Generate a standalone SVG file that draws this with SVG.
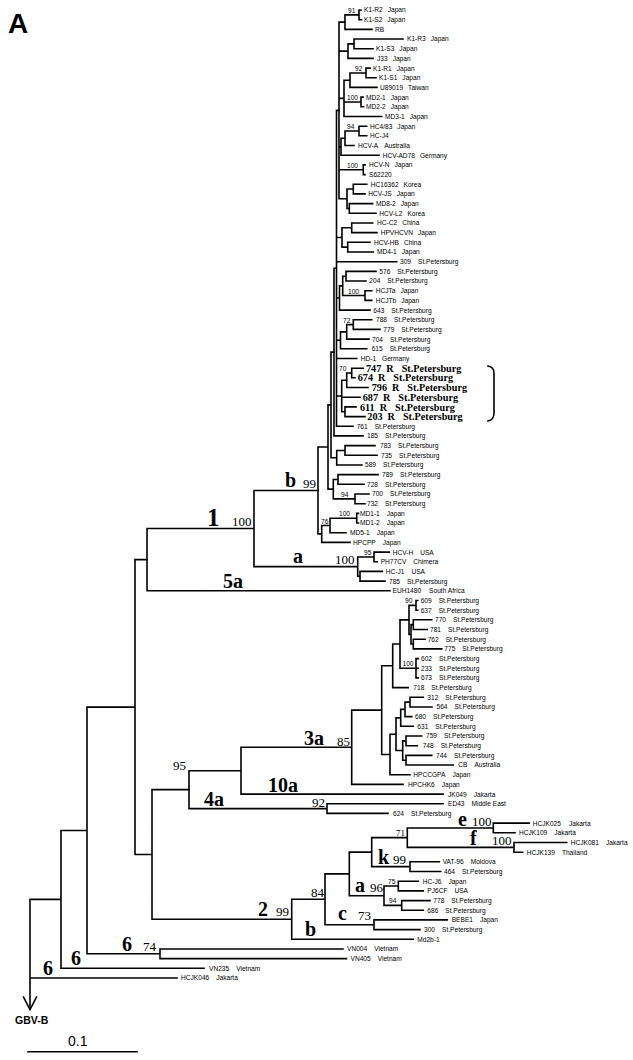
<svg xmlns="http://www.w3.org/2000/svg" width="633" height="1060" viewBox="0 0 633 1060">
<style>
.br{fill:none;stroke:#000;stroke-width:1.6;stroke-linecap:square}
.lf{font-family:"Liberation Sans",Arial,sans-serif;font-size:6.6px;fill:#000}
.rb{font-family:"Liberation Serif","Times New Roman",serif;font-size:10.2px;font-weight:bold;fill:#000}
.cl{font-family:"Liberation Serif","Times New Roman",serif;font-size:20px;font-weight:bold;fill:#000}
.bs{font-family:"Liberation Serif","Times New Roman",serif;font-size:13px;fill:#000}
.sb{font-family:"Liberation Sans",Arial,sans-serif;font-size:6.6px;fill:#000}
</style>
<rect width="633" height="1060" fill="#fff"/>
<text x="8" y="33" style="font-family:'Liberation Sans',Arial,sans-serif;font-size:28px;font-weight:bold">A</text>
<g id="connectors">
<path class="br" d="M359 10V19.7M359 10H361M359 19.7H361.5M345 14.85V29.4M345 14.85H359M345 29.4H372M354 39V48.7M354 39H403M354 48.7H373M348 43.85V58.4M348 43.85H354M348 58.4H373M366 68.1V77.8M366 68.1H370M366 77.8H376M350 72.95V87.4M350 72.95H366M350 87.4H377M361 97.1V106.8M361 97.1H363M361 106.8H363.5M344 80.2V116.5M344 80.2H350M344 101.95H361M344 116.5H381.7M359 126.2V135.8M359 126.2H366.7M359 135.8H366.7M345 131V145.5M345 131H359M345 145.5H354M341 138.25V155.2M341 138.25H345M341 155.2H379M363.3 164.9V174.6M363.3 164.9H365M363.3 174.6H365M353.3 184.2V193.9M353.3 184.2H366.7M353.3 193.9H365M349.3 203.6V213.3M349.3 203.6H372.7M349.3 213.3H376M347 189.05V208.45M347 189.05H353.3M347 208.45H349.3M339 22.1V198.75M339 22.1H345M339 51.1H348M339 98.35H344M339 146.7H341M339 169.75H363.3M339 198.75H347"/>
<path class="br" d="M351.7 223V232.6M351.7 223H372.7M351.7 232.6H377M347.7 242.3V252M347.7 242.3H370M347.7 252H373.3M342 227.8V247.15M342 227.8H351.7M342 247.15H347.7M346 271.4V281M346 271.4H376M346 281H366M365 290.7V300.4M365 290.7H371.7M365 300.4H371.7M342.7 276.2V295.55M342.7 276.2H346M342.7 295.55H365M339.5 285.9V310.1M339.5 285.9H342.7M339.5 310.1H370M353.3 319.8V329.4M353.3 319.8H371.7M353.3 329.4H380M346.7 324.6V339.1M346.7 324.6H353.3M346.7 339.1H369M340.5 331.85V348.8M340.5 331.85H346.7M340.5 348.8H366.7M351.7 368.2V377.8M351.7 368.2H363.3M351.7 377.8H355M346.7 373V387.5M346.7 373H351.7M346.7 387.5H368M345 406.9V416.6M345 406.9H356M345 416.6H365M341.7 380.25V411.75M341.7 380.25H346.7M341.7 397.2H360M341.7 411.75H345M336.5 110.4V426.2M336.5 110.4H339M336.5 237.5H342M336.5 261.7H396.7M336.5 298H339.5M336.5 340.3H340.5M336.5 358.5H356.7M336.5 396H341.7M336.5 426.2H353M334 268.3V435.9M334 268.3H336.5M334 435.9H363"/>
<path class="br" d="M345 445.6V455.3M345 445.6H375M345 455.3H377M336.7 450.45V465M336.7 450.45H345M336.7 465H362M331 352.1V457.7M331 352.1H334M331 457.7H336.7M338 474.6V484.3M338 474.6H378M338 484.3H364M355 494V503.7M355 494H369M355 503.7H365M333.3 479.45V498.85M333.3 479.45H338M333.3 498.85H355M328 404.9V489.15M328 404.9H331M328 489.15H333.3M356.7 513.4V523M356.7 513.4H358.5M356.7 523H358.5M330 518.2V532.7M330 518.2H356.7M330 532.7H346M321.7 525.45V542.4M321.7 525.45H330M321.7 542.4H350M318 447V533.9M318 447H328M318 533.9H321.7"/>
<path class="br" d="M374 552.1V561.8M374 552.1H389.3M374 561.8H377.3M360 571.4V581.1M360 571.4H382.3M360 581.1H385M357.7 556.95V576.25M357.7 556.95H374M357.7 576.25H360M254 490.45V566.6M254 490.45H318M254 566.6H357.7M147 528.5V590.8M147 528.5H254M147 590.8H390"/>
<path class="br" d="M416 600.5V610.2M416 600.5H417.7M416 610.2H417.7M413.3 619.8V629.5M413.3 619.8H431.7M413.3 629.5H427.3M413.3 639.2V648.9M413.3 639.2H425M413.3 648.9H441.7M411 624.65V644.05M411 624.65H413.3M411 644.05H413.3M409 605.35V634.35M409 605.35H416M409 634.35H411M416 658.6V677.9M416 658.6H418.3M416 668.25H418.3M416 677.9H418.3M400 619.85V668.25M400 619.85H409M400 668.25H416M392.7 644.05V687.6M392.7 644.05H400M392.7 687.6H408.3M410 697.3V707M410 697.3H423.3M410 707H432M405 702.15V716.6M405 702.15H410M405 716.6H411.7M400.7 709.4V726.3M400.7 709.4H405M400.7 726.3H413.3M406 736V745.7M406 736H421.7M406 745.7H417.3M406 755.4V765M406 755.4H431.7M406 765H453.3M402.7 740.85V760.2M402.7 740.85H406M402.7 760.2H406M396 717.85V750.5M396 717.85H400.7M396 750.5H402.7M390 734.2V774.7M390 734.2H396M390 774.7H410M381.7 665.8V754.45M381.7 665.8H392.7M381.7 754.45H390M351.7 710.1V784.4M351.7 710.1H381.7M351.7 784.4H403M241 747.25V794.1M241 747.25H351.7M241 794.1H443M327 803.8V813.4M327 803.8H443M327 813.4H388M189 770.7V808.6M189 770.7H241M189 808.6H327"/>
<path class="br" d="M493.3 823.1V832.8M493.3 823.1H529.3M493.3 832.8H515M514 842.5V852.2M514 842.5H566.7M514 852.2H522.7M407.3 827.95V847.35M407.3 827.95H493.3M407.3 847.35H514M410 861.8V871.5M410 861.8H439.3M410 871.5H440.7M371.7 837.65V866.65M371.7 837.65H407.3M371.7 866.65H410M398.3 881.2V890.9M398.3 881.2H418.3M398.3 890.9H423.3M401.7 900.6V910.2M401.7 900.6H430M401.7 910.2H423.3M384 886.05V905.4M384 886.05H398.3M384 905.4H401.7M349.3 852.15V895.7M349.3 852.15H371.7M349.3 895.7H384M374 919.9V929.6M374 919.9H447.3M374 929.6H420M325 873.9V924.75M325 873.9H349.3M325 924.75H374M291.7 899.3V939.3M291.7 899.3H325M291.7 939.3H413.3M152 789.65V919.3M152 789.65H189M152 919.3H291.7M135 559.65V854.5M135 559.65H147M135 854.5H152M160 949V958.6M160 949H343M160 958.6H346.5M87 707.1V953.8M87 707.1H135M87 953.8H160M61 830.45V968.3M61 830.45H87M61 968.3H204M30 899.4V1009M30 899.4H61M30 978H177"/>
<path class="br" stroke-linecap="butt" d="M23.5 997L30 1009.5L36.5 997"/>
<path class="br" d="M488 366Q494 367 494 373V413Q494 420 488 421"/>
<path class="br" stroke-linecap="butt" d="M28 1051.7H137"/>
</g>
<g id="labels">
<text class="cl" x="207" y="526" style="font-size:25px">1</text>
<text class="bs" x="232" y="526">100</text>
<text class="cl" x="285" y="487">b</text>
<text class="bs" x="303" y="488">99</text>
<text class="cl" x="293" y="563">a</text>
<text class="bs" x="335" y="564">100</text>
<text class="cl" x="223" y="588">5a</text>
<text class="cl" x="304" y="745">3a</text>
<text class="bs" x="337" y="746">85</text>
<text class="cl" x="268" y="792">10a</text>
<text class="bs" x="173" y="770">95</text>
<text class="cl" x="204" y="806">4a</text>
<text class="bs" x="312" y="807">92</text>
<text class="cl" x="458" y="826">e</text>
<text class="bs" x="472" y="826">100</text>
<text class="cl" x="470" y="845">f</text>
<text class="bs" x="492" y="845">100</text>
<text class="bs" x="396" y="836" style="font-size:9px">71</text>
<text class="cl" x="378" y="864">k</text>
<text class="bs" x="393" y="864">99</text>
<text class="cl" x="355" y="892">a</text>
<text class="bs" x="370" y="892">96</text>
<text class="bs" x="311" y="897">84</text>
<text class="cl" x="338" y="920">c</text>
<text class="bs" x="358" y="920">73</text>
<text class="cl" x="258" y="916">2</text>
<text class="bs" x="276" y="916">99</text>
<text class="cl" x="305" y="936">b</text>
<text class="cl" x="122" y="951">6</text>
<text class="bs" x="143" y="951">74</text>
<text class="cl" x="71" y="965">6</text>
<text class="cl" x="43" y="975">6</text>
<text class="sb" x="348" y="13">91</text>
<text class="sb" x="355" y="71">92</text>
<text class="sb" x="347" y="100">100</text>
<text class="sb" x="347" y="129">94</text>
<text class="sb" x="347" y="167.5">100</text>
<text class="sb" x="348" y="293.5">100</text>
<text class="sb" x="343" y="322.5">72</text>
<text class="sb" x="339" y="370.5">70</text>
<text class="sb" x="341" y="497">94</text>
<text class="sb" x="339" y="516">100</text>
<text class="sb" x="321" y="523.5">76</text>
<text class="sb" x="364" y="555">95</text>
<text class="sb" x="405" y="603">90</text>
<text class="sb" x="402.5" y="666">100</text>
<text class="sb" x="388" y="884">75</text>
<text class="sb" x="389" y="903">94</text>
<text x="15" y="1024" style="font-family:'Liberation Sans',Arial,sans-serif;font-size:10.5px;font-weight:bold">GBV-B</text>
<text x="68" y="1046" style="font-family:'Liberation Sans',Arial,sans-serif;font-size:14px">0.1</text>
</g>
<g id="n-K1-R2"><text class="lf" x="364" y="12.4">K1-R2<tspan dx="5">Japan</tspan></text></g>
<g id="n-K1-S2"><text class="lf" x="364" y="22.1">K1-S2<tspan dx="5">Japan</tspan></text></g>
<g id="n-RB"><text class="lf" x="375" y="31.8">RB</text></g>
<g id="n-K1-R3"><text class="lf" x="407" y="41.4">K1-R3<tspan dx="5">Japan</tspan></text></g>
<g id="n-K1-S3"><text class="lf" x="376" y="51.1">K1-S3<tspan dx="5">Japan</tspan></text></g>
<g id="n-J33"><text class="lf" x="377" y="60.8">J33<tspan dx="5">Japan</tspan></text></g>
<g id="n-K1-R1"><text class="lf" x="373" y="70.5">K1-R1<tspan dx="5">Japan</tspan></text></g>
<g id="n-K1-S1"><text class="lf" x="379" y="80.2">K1-S1<tspan dx="5">Japan</tspan></text></g>
<g id="n-U89019"><text class="lf" x="380" y="89.8">U89019<tspan dx="5">Taiwan</tspan></text></g>
<g id="n-MD2-1"><text class="lf" x="366" y="99.5">MD2-1<tspan dx="5">Japan</tspan></text></g>
<g id="n-MD2-2"><text class="lf" x="366" y="109.2">MD2-2<tspan dx="5">Japan</tspan></text></g>
<g id="n-MD3-1"><text class="lf" x="385" y="118.9">MD3-1<tspan dx="5">Japan</tspan></text></g>
<g id="n-HC4-83"><text class="lf" x="370" y="128.6">HC4/83<tspan dx="5">Japan</tspan></text></g>
<g id="n-HC-J4"><text class="lf" x="370" y="138.2">HC-J4</text></g>
<g id="n-HCV-A"><text class="lf" x="358" y="147.9">HCV-A<tspan dx="6">Australia</tspan></text></g>
<g id="n-HCV-AD78"><text class="lf" x="382.7" y="157.6">HCV-AD78<tspan dx="5">Germany</tspan></text></g>
<g id="n-HCV-N"><text class="lf" x="369" y="167.3">HCV-N<tspan dx="5">Japan</tspan></text></g>
<g id="n-S62220"><text class="lf" x="369" y="177">S62220</text></g>
<g id="n-HC16362"><text class="lf" x="370.7" y="186.6">HC16362<tspan dx="5">Korea</tspan></text></g>
<g id="n-HCV-JS"><text class="lf" x="368.3" y="196.3">HCV-JS<tspan dx="5">Japan</tspan></text></g>
<g id="n-MD8-2"><text class="lf" x="376" y="206">MD8-2<tspan dx="5">Japan</tspan></text></g>
<g id="n-HCV-L2"><text class="lf" x="379.3" y="215.7">HCV-L2<tspan dx="5">Korea</tspan></text></g>
<g id="n-HC-C2"><text class="lf" x="377" y="225.4">HC-C2<tspan dx="5">China</tspan></text></g>
<g id="n-HPVHCVN"><text class="lf" x="380.7" y="235">HPVHCVN<tspan dx="5">Japan</tspan></text></g>
<g id="n-HCV-HB"><text class="lf" x="374" y="244.7">HCV-HB<tspan dx="5">China</tspan></text></g>
<g id="n-MD4-1"><text class="lf" x="377" y="254.4">MD4-1<tspan dx="5">Japan</tspan></text></g>
<g id="n-309"><text class="lf" x="400" y="264.1">309<tspan dx="7">St.Petersburg</tspan></text></g>
<g id="n-576"><text class="lf" x="379.3" y="273.8">576<tspan dx="7">St.Petersburg</tspan></text></g>
<g id="n-204"><text class="lf" x="369.3" y="283.4">204<tspan dx="7">St.Petersburg</tspan></text></g>
<g id="n-HCJTa"><text class="lf" x="375.7" y="293.1">HCJTa<tspan dx="5">Japan</tspan></text></g>
<g id="n-HCJTb"><text class="lf" x="375.7" y="302.8">HCJTb<tspan dx="5">Japan</tspan></text></g>
<g id="n-643"><text class="lf" x="373.3" y="312.5">643<tspan dx="7">St.Petersburg</tspan></text></g>
<g id="n-788"><text class="lf" x="376" y="322.2">788<tspan dx="7">St.Petersburg</tspan></text></g>
<g id="n-779"><text class="lf" x="383.3" y="331.8">779<tspan dx="7">St.Petersburg</tspan></text></g>
<g id="n-704"><text class="lf" x="372" y="341.5">704<tspan dx="7">St.Petersburg</tspan></text></g>
<g id="n-615"><text class="lf" x="371.7" y="351.2">615<tspan dx="7">St.Petersburg</tspan></text></g>
<g id="n-HD-1"><text class="lf" x="360.7" y="360.9">HD-1<tspan dx="6">Germany</tspan></text></g>
<g id="n-747R"><text class="rb" x="366" y="371.8">747<tspan dx="5">R</tspan><tspan dx="8">St.Petersburg</tspan></text></g>
<g id="n-674R"><text class="rb" x="357.7" y="381.4">674<tspan dx="5">R</tspan><tspan dx="8">St.Petersburg</tspan></text></g>
<g id="n-796R"><text class="rb" x="371.7" y="391.1">796<tspan dx="5">R</tspan><tspan dx="8">St.Petersburg</tspan></text></g>
<g id="n-687R"><text class="rb" x="362.7" y="400.8">687<tspan dx="5">R</tspan><tspan dx="8">St.Petersburg</tspan></text></g>
<g id="n-611R"><text class="rb" x="360" y="410.5">611<tspan dx="5">R</tspan><tspan dx="8">St.Petersburg</tspan></text></g>
<g id="n-203R"><text class="rb" x="367.3" y="420.2">203<tspan dx="5">R</tspan><tspan dx="8">St.Petersburg</tspan></text></g>
<g id="n-761"><text class="lf" x="356.7" y="428.6">761<tspan dx="7">St.Petersburg</tspan></text></g>
<g id="n-185"><text class="lf" x="367" y="438.3">185<tspan dx="7">St.Petersburg</tspan></text></g>
<g id="n-783"><text class="lf" x="380" y="448">783<tspan dx="7">St.Petersburg</tspan></text></g>
<g id="n-735"><text class="lf" x="381" y="457.7">735<tspan dx="7">St.Petersburg</tspan></text></g>
<g id="n-589"><text class="lf" x="365" y="467.4">589<tspan dx="7">St.Petersburg</tspan></text></g>
<g id="n-789"><text class="lf" x="382" y="477">789<tspan dx="7">St.Petersburg</tspan></text></g>
<g id="n-728"><text class="lf" x="367" y="486.7">728<tspan dx="7">St.Petersburg</tspan></text></g>
<g id="n-700"><text class="lf" x="372" y="496.4">700<tspan dx="7">St.Petersburg</tspan></text></g>
<g id="n-732"><text class="lf" x="367" y="506.1">732<tspan dx="7">St.Petersburg</tspan></text></g>
<g id="n-MD1-1"><text class="lf" x="360" y="515.8">MD1-1<tspan dx="7">Japan</tspan></text></g>
<g id="n-MD1-2"><text class="lf" x="360" y="525.4">MD1-2<tspan dx="7">Japan</tspan></text></g>
<g id="n-MD5-1"><text class="lf" x="350" y="535.1">MD5-1<tspan dx="7">Japan</tspan></text></g>
<g id="n-HPCPP"><text class="lf" x="353" y="544.8">HPCPP<tspan dx="7">Japan</tspan></text></g>
<g id="n-HCV-H"><text class="lf" x="392.7" y="554.5">HCV-H<tspan dx="7">USA</tspan></text></g>
<g id="n-PH77CV"><text class="lf" x="380.7" y="564.2">PH77CV<tspan dx="7">Chimera</tspan></text></g>
<g id="n-HC-J1"><text class="lf" x="385.7" y="573.8">HC-J1<tspan dx="7">USA</tspan></text></g>
<g id="n-785"><text class="lf" x="389" y="583.5">785<tspan dx="7">St.Petersburg</tspan></text></g>
<g id="n-EUH1480"><text class="lf" x="392.5" y="593.2">EUH1480<tspan dx="8">South Africa</tspan></text></g>
<g id="n-609"><text class="lf" x="420.7" y="602.9">609<tspan dx="7">St.Petersburg</tspan></text></g>
<g id="n-637"><text class="lf" x="420.7" y="612.6">637<tspan dx="7">St.Petersburg</tspan></text></g>
<g id="n-770"><text class="lf" x="435" y="622.2">770<tspan dx="7">St.Petersburg</tspan></text></g>
<g id="n-781"><text class="lf" x="430" y="631.9">781<tspan dx="7">St.Petersburg</tspan></text></g>
<g id="n-762"><text class="lf" x="427.7" y="641.6">762<tspan dx="7">St.Petersburg</tspan></text></g>
<g id="n-775"><text class="lf" x="444.3" y="651.3">775<tspan dx="7">St.Petersburg</tspan></text></g>
<g id="n-602"><text class="lf" x="421" y="661">602<tspan dx="7">St.Petersburg</tspan></text></g>
<g id="n-233"><text class="lf" x="421" y="670.6">233<tspan dx="7">St.Petersburg</tspan></text></g>
<g id="n-673"><text class="lf" x="421" y="680.3">673<tspan dx="7">St.Petersburg</tspan></text></g>
<g id="n-718"><text class="lf" x="413.3" y="690">718<tspan dx="7">St.Petersburg</tspan></text></g>
<g id="n-312"><text class="lf" x="427.3" y="699.7">312<tspan dx="7">St.Petersburg</tspan></text></g>
<g id="n-564"><text class="lf" x="436.5" y="709.4">564<tspan dx="7">St.Petersburg</tspan></text></g>
<g id="n-680"><text class="lf" x="415" y="719">680<tspan dx="7">St.Petersburg</tspan></text></g>
<g id="n-631"><text class="lf" x="417.3" y="728.7">631<tspan dx="7">St.Petersburg</tspan></text></g>
<g id="n-759"><text class="lf" x="426" y="738.4">759<tspan dx="7">St.Petersburg</tspan></text></g>
<g id="n-748"><text class="lf" x="422.7" y="748.1">748<tspan dx="7">St.Petersburg</tspan></text></g>
<g id="n-744"><text class="lf" x="436" y="757.8">744<tspan dx="7">St.Petersburg</tspan></text></g>
<g id="n-CB"><text class="lf" x="458.3" y="767.4">CB<tspan dx="7">Australia</tspan></text></g>
<g id="n-HPCCGPA"><text class="lf" x="413.3" y="777.1">HPCCGPA<tspan dx="7">Japan</tspan></text></g>
<g id="n-HPCHK6"><text class="lf" x="408" y="786.8">HPCHK6<tspan dx="7">Japan</tspan></text></g>
<g id="n-JK049"><text class="lf" x="448" y="796.5">JK049<tspan dx="7">Jakarta</tspan></text></g>
<g id="n-ED43"><text class="lf" x="448" y="806.2">ED43<tspan dx="7">Middle East</tspan></text></g>
<g id="n-624"><text class="lf" x="393" y="815.8">624<tspan dx="7">St.Petersburg</tspan></text></g>
<g id="n-HCJK025"><text class="lf" x="532.7" y="825.5">HCJK025<tspan dx="8">Jakarta</tspan></text></g>
<g id="n-HCJK109"><text class="lf" x="519" y="835.2">HCJK109<tspan dx="7">Jakarta</tspan></text></g>
<g id="n-HCJK081"><text class="lf" x="570.7" y="844.9">HCJK081<tspan dx="7">Jakarta</tspan></text></g>
<g id="n-HCJK139"><text class="lf" x="526.7" y="854.6">HCJK139<tspan dx="7">Thailand</tspan></text></g>
<g id="n-VAT-96"><text class="lf" x="442.7" y="864.2">VAT-96<tspan dx="7">Moldova</tspan></text></g>
<g id="n-464"><text class="lf" x="444" y="873.9">464<tspan dx="7">St.Petersburg</tspan></text></g>
<g id="n-HC-J6"><text class="lf" x="422.7" y="883.6">HC-J6<tspan dx="7">Japan</tspan></text></g>
<g id="n-PJ6CF"><text class="lf" x="427.3" y="893.3">PJ6CF<tspan dx="7">USA</tspan></text></g>
<g id="n-778"><text class="lf" x="433.3" y="903">778<tspan dx="7">St.Petersburg</tspan></text></g>
<g id="n-686"><text class="lf" x="427.3" y="912.6">686<tspan dx="7">St.Petersburg</tspan></text></g>
<g id="n-BEBE1"><text class="lf" x="451.7" y="922.3">BEBE1<tspan dx="7">Japan</tspan></text></g>
<g id="n-300"><text class="lf" x="424" y="932">300<tspan dx="7">St.Petersburg</tspan></text></g>
<g id="n-Md2b-1"><text class="lf" x="417.3" y="941.7">Md2b-1</text></g>
<g id="n-VN004"><text class="lf" x="347" y="951.4">VN004<tspan dx="7">Vietnam</tspan></text></g>
<g id="n-VN405"><text class="lf" x="350.5" y="961">VN405<tspan dx="7">Vietnam</tspan></text></g>
<g id="n-VN235"><text class="lf" x="209" y="970.7">VN235<tspan dx="7">Vietnam</tspan></text></g>
<g id="n-HCJK046"><text class="lf" x="181" y="980.4">HCJK046<tspan dx="7">Jakarta</tspan></text></g>
</svg>
